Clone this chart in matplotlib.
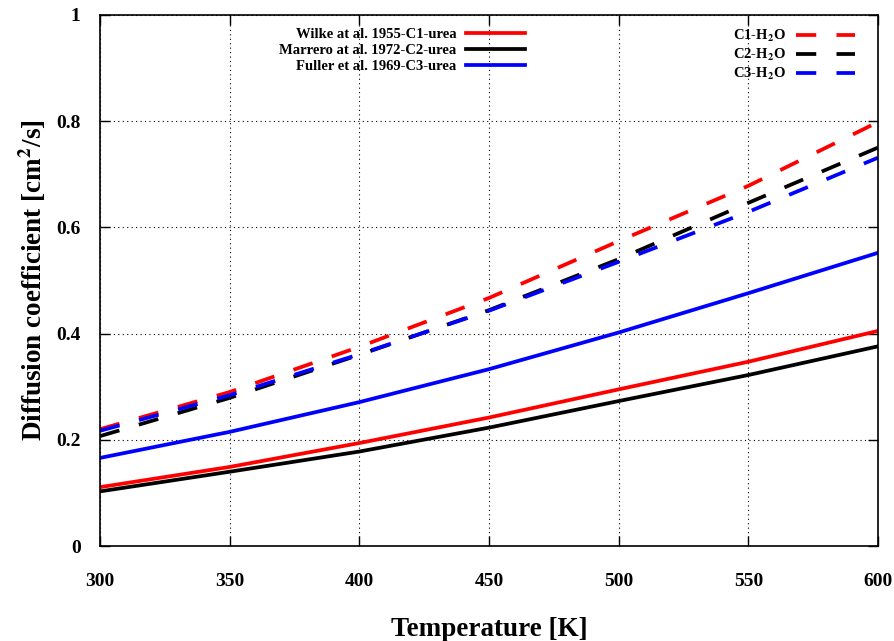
import numpy as np
import matplotlib
matplotlib.use("Agg")
import matplotlib.pyplot as plt

# temperatures [K]
T = [300, 350, 400, 450, 500, 550, 600]

# urea curves (solid)
wilke_urea = [0.111, 0.149, 0.194, 0.242, 0.295, 0.347, 0.405]
marrero_urea = [0.103, 0.140, 0.178, 0.223, 0.273, 0.322, 0.376]
fuller_urea = [0.166, 0.215, 0.271, 0.333, 0.402, 0.476, 0.552]

# water curves (dashed)
c1_h2o = [0.220, 0.290, 0.375, 0.467, 0.574, 0.678, 0.798]
c2_h2o = [0.207, 0.279, 0.360, 0.444, 0.540, 0.646, 0.750]
c3_h2o = [0.217, 0.284, 0.361, 0.443, 0.535, 0.629, 0.731]

x_ticks = [300, 350, 400, 450, 500, 550, 600]
y_ticks = [0, 0.2, 0.4, 0.6, 0.8, 1]
y_ticklabels = ["0", "0.2", "0.4", "0.6", "0.8", "1"]

plt.rcParams['font.family'] = ['Liberation Serif', 'DejaVu Serif']
plt.rcParams['font.weight'] = 'bold'
plt.rcParams['mathtext.fontset'] = 'stix'

fig = plt.figure(figsize=(8.95, 6.41), dpi=100)
ax = fig.add_axes([0.1117, 0.148, 0.8693, 0.829])

lw = 2.7
dash = (5.4, 5.4)
h1, = ax.plot(T, wilke_urea, color='red', lw=lw, label='Wilke at al. 1955-C1-urea')
h2, = ax.plot(T, marrero_urea, color='black', lw=lw, label='Marrero at al. 1972-C2-urea')
h3, = ax.plot(T, fuller_urea, color='blue', lw=lw, label='Fuller et al. 1969-C3-urea')
h4, = ax.plot(T, c1_h2o, color='red', lw=lw, dashes=dash, label=r'C1-H$_\mathbf{2}$O')
h5, = ax.plot(T, c2_h2o, color='black', lw=lw, dashes=dash, label=r'C2-H$_\mathbf{2}$O')
h6, = ax.plot(T, c3_h2o, color='blue', lw=lw, dashes=dash, label=r'C3-H$_\mathbf{2}$O')

ax.set_xlim(300, 600)
ax.set_ylim(0, 1)
ax.set_xticks(x_ticks)
ax.set_yticks(y_ticks)
ax.set_yticklabels(y_ticklabels)
ax.tick_params(direction='in', length=7, width=1, top=True, right=True,
               labelsize=14)
ax.tick_params(axis='x', pad=19)
ax.tick_params(axis='y', pad=14)
for lab in ax.get_xticklabels() + ax.get_yticklabels():
    lab.set_fontweight('bold')
ax.grid(True, color='black', linestyle=(0, (1, 3)), linewidth=0.8)
for s in ax.spines.values():
    s.set_linewidth(1.2)

ax.set_xlabel('Temperature [K]', fontsize=19.5, fontweight='bold', labelpad=20)
ax.set_ylabel(r'Diffusion coefficient [cm$^\mathbf{2}$/s]', fontsize=19.5,
              fontweight='bold', labelpad=6)

leg_kw = dict(frameon=False, markerfirst=False, fontsize=10.5, handlelength=4.0,
              handletextpad=0.7, labelspacing=0.2, borderaxespad=0, borderpad=0)
leg1 = ax.legend(handles=[h1, h2, h3], loc='upper right',
                 bbox_to_anchor=(0.546, 0.975), **leg_kw)
ax.add_artist(leg1)
ax.legend(handles=[h4, h5, h6], loc='upper right',
          bbox_to_anchor=(0.970, 0.975), **leg_kw)

fig.savefig('out.png', dpi=100)
